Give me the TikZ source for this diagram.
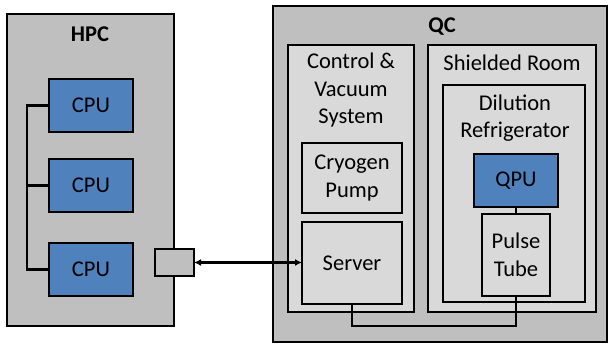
\documentclass[tikz,border=0pt]{standalone}
\usepackage{fontspec}
\setmainfont{Carlito}
\usetikzlibrary{arrows.meta}
\definecolor{outergray}{HTML}{BFBFBF}
\definecolor{innergray}{HTML}{D9D9D9}
\definecolor{cpublue}{HTML}{4F81BD}
\tikzset{
  bx/.style={draw=black, line width=2.2pt, inner sep=0pt, outer sep=0pt},
  outerbox/.style={bx, fill=outergray},
  innerbox/.style={bx, fill=innergray},
  bluebox/.style={bx, fill=cpublue},
  txt/.style={font=\fontsize{22.5}{27.5}\selectfont, align=center, inner sep=0pt},
  btxt/.style={font=\fontsize{22.5}{27.5}\selectfont\bfseries, align=center, inner sep=0pt},
  conn/.style={line width=2.2pt}
}
\begin{document}
\begin{tikzpicture}[x=1pt, y=-1pt]
\useasboundingbox (0,0) rectangle (608,345);
% HPC
\node[outerbox, minimum width=167pt, minimum height=312pt] (hpc) at (90.5,170) {};
\node[btxt] (hpclbl) at (90,34) {HPC};
\node[bluebox, txt, minimum width=84pt, minimum height=53pt] (cpu1) at (91,105.5) {CPU};
\node[bluebox, txt, minimum width=84pt, minimum height=53pt] (cpu2) at (91,185.5) {CPU};
\node[bluebox, txt, minimum width=84pt, minimum height=53pt] (cpu3) at (91,269.5) {CPU};
\draw[conn] (cpu1.west) -- ++(-22,0) coordinate (b1) |- (cpu3.west);
\draw[conn] (cpu2.west) -- (cpu2.west -| b1);
% port
\node[outerbox, minimum width=39pt, minimum height=27pt] (port) at (174.5,262.5) {};
% QC
\node[outerbox, minimum width=334pt, minimum height=336pt] (qc) at (440,174) {};
\node[btxt] (qclbl) at (442,27) {QC};
\node[innerbox, minimum width=126pt, minimum height=267pt] (cvs) at (351,178.5) {};
\node[txt] (cvslbl) at (351,90.5) {Control \&\\Vacuum\\System};
\node[innerbox, txt, minimum width=100pt, minimum height=70pt] (cryo) at (352,178) {Cryogen\\Pump};
\node[innerbox, txt, minimum width=100pt, minimum height=82pt] (server) at (352,263) {Server};
\node[innerbox, minimum width=168pt, minimum height=267pt] (shield) at (512,178.5) {};
\node[txt] (shieldlbl) at (512,63) {Shielded Room};
\node[innerbox, minimum width=142pt, minimum height=217pt] (dil) at (514,193.5) {};
\node[txt] (dillbl) at (515,118) {Dilution\\Refrigerator};
\node[bluebox, txt, minimum width=84pt, minimum height=53pt] (qpu) at (516,180.5) {QPU};
\node[innerbox, txt, minimum width=68pt, minimum height=82pt] (pulse) at (516,255) {Pulse\\Tube};
% connectors
\draw[conn] (qpu.south) -- (pulse.north);
\draw[conn] (server.south) -- ++(0,22) -| (pulse.south);
\draw[conn, {Latex[length=7pt,width=7pt]}-{Latex[length=7pt,width=7pt]}] (port.east) -- (port.east -| server.west);
\end{tikzpicture}
\end{document}
